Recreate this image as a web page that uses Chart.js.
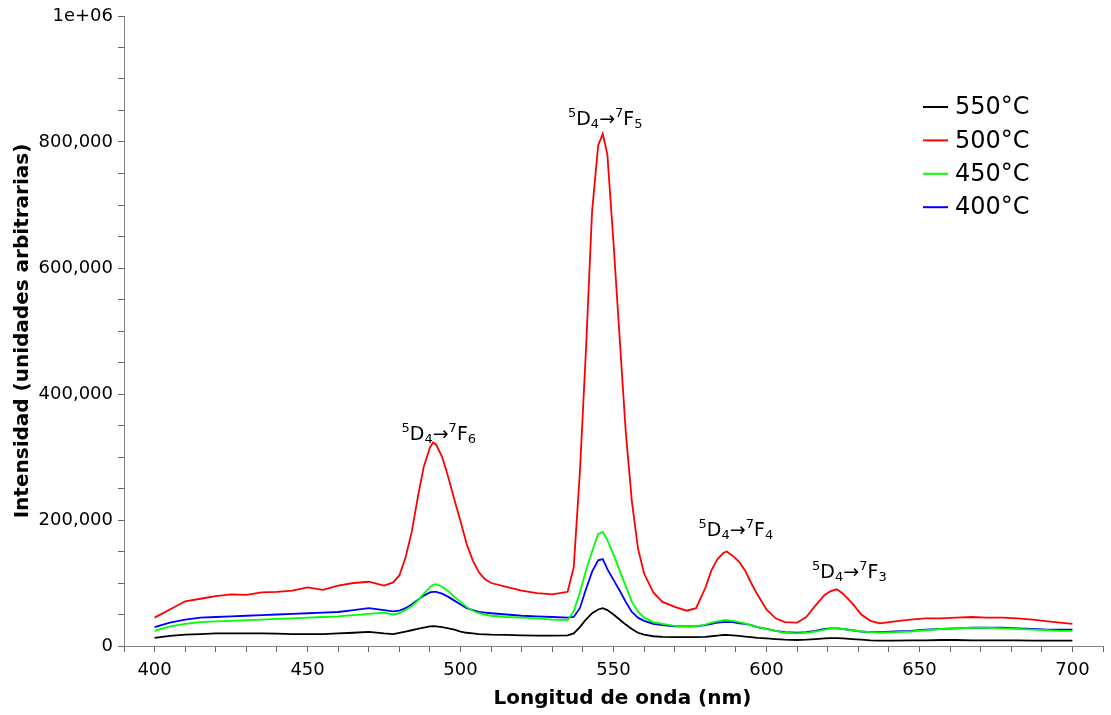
<!DOCTYPE html>
<html lang="es">
<head>
<meta charset="utf-8">
<title>Espectro de emisión</title>
<script src="https://cdn.jsdelivr.net/npm/chart.js@4.4.1/dist/chart.umd.min.js"></script>
<style>
  html, body { margin: 0; padding: 0; background: #fff; }
  canvas { display: block; }
</style>
</head>
<body>
<canvas id="espectro" width="1111" height="715"></canvas>
<script>
// Longitudes de onda (nm) comunes a todas las series
const longitudOnda = [
  400, 405, 410, 415, 420, 425, 430, 435, 440, 445, 450, 455, 460, 465, 470, 475, 478,
  480, 482, 484, 486, 488, 490, 491, 492, 494, 496, 498, 500, 502, 504, 506, 508, 510,
  515, 520, 525, 530, 535, 537, 539, 541, 543, 545, 546.5, 548, 550, 552, 554, 556, 558,
  560, 563, 566, 570, 574, 577, 580, 582, 584, 586, 587, 589, 591, 593, 595, 597, 600,
  603, 606, 610, 613, 616, 619, 621, 623, 625, 628, 631, 634, 637, 642, 647, 652, 657,
  662, 667, 672, 677, 682, 687, 692, 696, 700
];

// Intensidad (unidades arbitrarias) por temperatura de tratamiento
const int550 = [
  13000, 16000, 18000, 19000, 20000, 20000, 20000, 20000, 19500, 19000, 19000, 19000, 20000, 21000, 22500, 20000, 19000,
  21000, 23000, 25000, 27000, 29000, 31000, 31500, 31000, 30000, 28000, 26000, 23000, 21000, 20000, 19000, 18500, 18000,
  17500, 17000, 16500, 16500, 17000, 20000, 30000, 42000, 52000, 58000, 60000, 57000, 50000, 42000, 34000, 27000, 21000,
  18000, 15500, 14500, 14000, 14000, 14000, 14500, 15500, 16500, 17500, 17500, 17000, 16000, 15000, 14000, 13000, 12000,
  11000, 10000, 9500, 10000, 11000, 12000, 12500, 12500, 12000, 11000, 10000, 9000, 8500, 8500, 9000, 9000, 9500,
  9500, 9000, 9000, 9000, 9000, 8500, 8500, 8500, 8500
];

const int500 = [
  45000, 58000, 71000, 75000, 79000, 82000, 81000, 85000, 86000, 88000, 93000, 89000, 96000, 100000, 102000, 96000, 101000,
  112000, 140000, 180000, 235000, 285000, 315000, 323000, 320000, 300000, 268000, 232000, 198000, 162000, 136000, 117000, 106000, 100000,
  94000, 88000, 84000, 82000, 86000, 125000, 275000, 470000, 690000, 795000, 813000, 780000, 640000, 490000, 340000, 230000, 155000,
  115000, 85000, 70000, 62000, 56000, 60000, 92000, 120000, 138000, 148000, 150000, 143000, 134000, 120000, 100000, 82000, 58000,
  44000, 38000, 37000, 46000, 64000, 81000, 87000, 90000, 83000, 68000, 50000, 40000, 36000, 39000, 42000, 44000, 44000,
  45000, 46000, 45000, 45000, 44000, 42000, 39000, 37000, 35000
];

const int450 = [
  24000, 31000, 35000, 38000, 39000, 40000, 41000, 42000, 43000, 44000, 45000, 46000, 47000, 49000, 51000, 53000, 50000,
  52000, 57000, 63000, 72000, 83000, 93000, 97000, 98000, 94000, 87000, 78000, 70000, 62000, 56000, 52000, 50000, 48000,
  46000, 45000, 44000, 42000, 41000, 55000, 85000, 120000, 150000, 178000, 181000, 168000, 145000, 120000, 95000, 70000, 55000,
  45000, 38000, 35000, 32000, 31000, 31000, 34000, 37000, 39000, 41000, 41000, 40000, 38000, 36000, 33000, 30000, 27000,
  24000, 21000, 20000, 21000, 23000, 26000, 28000, 28000, 27000, 25000, 23000, 22000, 21000, 22000, 23000, 25000, 27000,
  28000, 29000, 29000, 28000, 27000, 26000, 25000, 24000, 24000
];

const int400 = [
  30000, 37000, 42000, 45000, 46000, 47000, 48000, 49000, 50000, 51000, 52000, 53000, 54000, 57000, 60000, 57000, 55000,
  56000, 60000, 66000, 73000, 80000, 85000, 86000, 86000, 83000, 78000, 72000, 66000, 60000, 57000, 54000, 53000, 52000,
  50000, 48000, 47000, 46000, 45000, 46000, 60000, 90000, 118000, 136000, 138000, 122000, 105000, 88000, 70000, 54000, 45000,
  40000, 35000, 33000, 31000, 31000, 31000, 33000, 35000, 37000, 38000, 38000, 38000, 36000, 35000, 33000, 30000, 27000,
  24000, 22000, 21000, 22000, 24000, 27000, 28000, 28000, 27000, 25000, 23000, 22000, 22000, 23000, 24000, 26000, 27000,
  28000, 29000, 29000, 29000, 28000, 27000, 26000, 26000, 26000
];

const temperaturas = ['550°C', '500°C', '450°C', '400°C'];
const colores = ['#000000', '#ff0000', '#00ff00', '#0000ff'];

// Transiciones 5D4 -> 7FJ marcadas sobre cada banda
const nivelesJ = ['6', '5', '4', '3'];
const posEtiquetas = [[492.9, 327000], [547.3, 827000], [590, 174600], [627.1, 108000]];

const fuente = '"DejaVu Sans", Verdana, sans-serif';

function puntos(valores) {
  return longitudOnda.map((x, i) => ({ x, y: valores[i] }));
}

function dibujarTransicion(ctx, cx, base, j) {
  const partes = [
    { t: '5', f: 13, dy: -8 },
    { t: 'D', f: 19, dy: 0 },
    { t: '4', f: 13, dy: 3 },
    { t: '\u2192', f: 19, dy: 0 },
    { t: '7', f: 13, dy: -8 },
    { t: 'F', f: 19, dy: 0 },
    { t: j, f: 13, dy: 3 }
  ];
  let ancho = 0;
  partes.forEach(p => {
    ctx.font = p.f + 'px ' + fuente;
    p.w = ctx.measureText(p.t).width;
    ancho += p.w;
  });
  let x = cx - ancho / 2;
  partes.forEach(p => {
    ctx.font = p.f + 'px ' + fuente;
    ctx.fillText(p.t, x, base + p.dy);
    x += p.w;
  });
}

const etiquetas = {
  id: 'etiquetas',
  afterDatasetsDraw(chart) {
    const { ctx, scales } = chart;
    ctx.save();
    ctx.fillStyle = '#000';
    ctx.textBaseline = 'alphabetic';
    ctx.textAlign = 'left';
    nivelesJ.forEach((j, i) => {
      const [nm, val] = posEtiquetas[i];
      dibujarTransicion(ctx, scales.x.getPixelForValue(nm), scales.y.getPixelForValue(val), j);
    });
    ctx.restore();
  }
};

const leyenda = {
  id: 'leyenda',
  afterDraw(chart) {
    const ctx = chart.ctx;
    ctx.save();
    ctx.font = '24px ' + fuente;
    ctx.textBaseline = 'middle';
    ctx.textAlign = 'left';
    chart.data.datasets.forEach((ds, i) => {
      const y = 107 + i * 33.4;
      ctx.strokeStyle = ds.borderColor;
      ctx.lineWidth = 2;
      ctx.beginPath();
      ctx.moveTo(923, y);
      ctx.lineTo(948, y);
      ctx.stroke();
      ctx.fillStyle = '#000';
      ctx.fillText(ds.label, 955, y + 1);
    });
    ctx.restore();
  }
};

// título del eje x, algo desplazado a la derecha del centro del área
const tituloX = {
  id: 'tituloX',
  afterDraw(chart) {
    const { ctx, chartArea } = chart;
    ctx.save();
    ctx.font = 'bold 20px ' + fuente;
    ctx.textAlign = 'center';
    ctx.textBaseline = 'middle';
    ctx.fillStyle = '#000';
    ctx.fillText('Longitud de onda (nm)', (chartArea.left + chartArea.right) / 2 + 9, 699);
    ctx.restore();
  }
};

const series = [int550, int500, int450, int400];

new Chart(document.getElementById('espectro'), {
  type: 'line',
  data: {
    datasets: series.map((s, i) => ({
      label: temperaturas[i],
      data: puntos(s),
      borderColor: colores[i],
      backgroundColor: colores[i],
      borderWidth: 1.8,
      pointRadius: 0,
      tension: 0,
      fill: false
    }))
  },
  options: {
    responsive: false,
    animation: false,
    layout: { padding: { top: 16, right: 5, left: 0, bottom: 0 } },
    plugins: {
      legend: { display: false },
      tooltip: { enabled: false }
    },
    scales: {
      x: {
        type: 'linear',
        min: 390,
        max: 710,
        afterFit: s => { s.height = 69; },
        border: { color: '#808080', width: 1 },
        grid: { drawOnChartArea: false, color: '#666', tickLength: 6 },
        ticks: {
          stepSize: 10,
          autoSkip: false,
          maxRotation: 0,
          color: '#000',
          padding: 8,
          font: { family: fuente, size: 18 },
          callback: v => (v % 50 === 0 && v >= 400 && v <= 700) ? String(v) : ''
        },
        title: { display: false }
      },
      y: {
        min: 0,
        max: 1000000,
        afterFit: s => { s.width = 124; },
        border: { color: '#808080', width: 1 },
        grid: { drawOnChartArea: false, color: '#666', tickLength: 6 },
        ticks: {
          stepSize: 50000,
          autoSkip: false,
          color: '#000',
          padding: 5,
          font: { family: fuente, size: 18 },
          callback: v => v === 1000000 ? '1e+06' : (v % 200000 === 0 ? v.toLocaleString('en-US') : '')
        },
        title: {
          display: true,
          text: 'Intensidad (unidades arbitrarias)',
          color: '#000',
          font: { family: fuente, size: 20, weight: 'bold' },
          padding: { top: 11, bottom: 0 }
        }
      }
    }
  },
  plugins: [etiquetas, leyenda, tituloX]
});
</script>
</body>
</html>
